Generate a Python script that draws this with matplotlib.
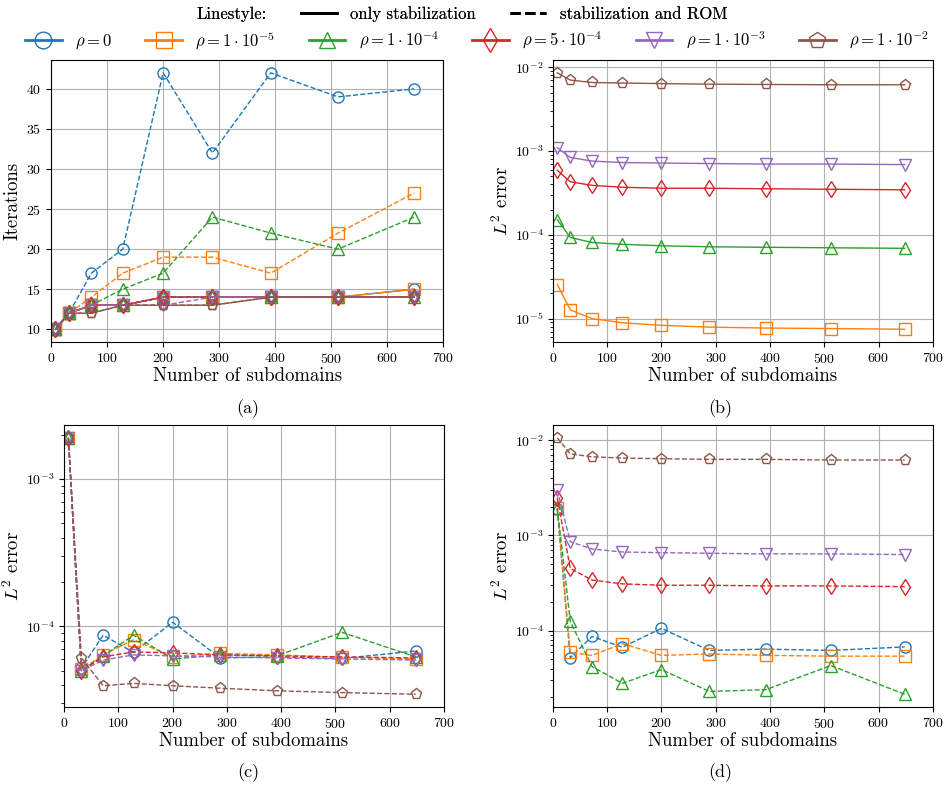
import numpy as np
import matplotlib
matplotlib.use("Agg")
import matplotlib.pyplot as plt
from matplotlib.lines import Line2D

plt.rcParams['font.family'] = 'serif'
plt.rcParams['font.serif'] = ['cmr10']
plt.rcParams['mathtext.fontset'] = 'cm'
plt.rcParams['axes.formatter.use_mathtext'] = True

# number of subdomains
n_sub = [8, 32, 72, 128, 200, 288, 392, 512, 648]

rho_labels = [r'$\rho = 0$', r'$\rho = 1 \cdot 10^{-5}$', r'$\rho = 1 \cdot 10^{-4}$',
              r'$\rho = 5 \cdot 10^{-4}$', r'$\rho = 1 \cdot 10^{-3}$', r'$\rho = 1 \cdot 10^{-2}$']
colors = ['tab:blue', 'tab:orange', 'tab:green', 'tab:red', 'tab:purple', 'tab:brown']
markers = ['o', 's', '^', 'd', 'v', 'p']

# (a) iterations, only stabilization (solid)
iters_stab = [
    [10, 12, 13, 13, 14, 14, 14, 14, 15],
    [10, 12, 13, 13, 14, 14, 14, 14, 15],
    [10, 12, 13, 13, 14, 14, 14, 14, 14],
    [10, 12, 13, 13, 14, 14, 14, 14, 14],
    [10, 12, 13, 13, 14, 14, 14, 14, 14],
    [10, 12, 12, 13, 13, 13, 14, 14, 14],
]
# (a) iterations, stabilization and ROM (dashed)
iters_rom = [
    [10, 12, 17, 20, 42, 32, 42, 39, 40],
    [10, 12, 14, 17, 19, 19, 17, 22, 27],
    [10, 12, 13, 15, 17, 24, 22, 20, 24],
    [10, 12, 13, 13, 14, 14, 14, 14, 14],
    [10, 12, 13, 13, 13, 14, 14, 14, 14],
    [10, 12, 12, 13, 13, 13, 14, 14, 14],
]

# (b) L2 error, only stabilization (no curve for rho=0)
err_b = [
    None,
    [2.55e-5, 1.27e-5, 1.0e-5, 8.9e-6, 8.3e-6, 7.9e-6, 7.7e-6, 7.6e-6, 7.45e-6],
    [1.52e-4, 9.3e-5, 8.1e-5, 7.7e-5, 7.4e-5, 7.2e-5, 7.1e-5, 7.0e-5, 6.9e-5],
    [5.9e-4, 4.3e-4, 3.9e-4, 3.7e-4, 3.6e-4, 3.6e-4, 3.55e-4, 3.5e-4, 3.45e-4],
    [1.1e-3, 8.4e-4, 7.6e-4, 7.3e-4, 7.2e-4, 7.1e-4, 7.0e-4, 7.0e-4, 6.9e-4],
    [8.6e-3, 7.05e-3, 6.6e-3, 6.5e-3, 6.4e-3, 6.3e-3, 6.25e-3, 6.2e-3, 6.2e-3],
]

# (c) L2 error, stabilization and ROM
err_c = [
    [1.9e-3, 5.2e-5, 8.7e-5, 6.65e-5, 1.065e-4, 6.1e-5, 6.2e-5, 6.05e-5, 6.8e-5],
    [1.9e-3, 5.1e-5, 6.4e-5, 8.1e-5, 6.2e-5, 6.55e-5, 6.4e-5, 6.15e-5, 6.0e-5],
    [1.9e-3, 5.0e-5, 6.3e-5, 8.7e-5, 6.0e-5, 6.4e-5, 6.3e-5, 9.1e-5, 6.2e-5],
    [1.9e-3, 5.0e-5, 6.2e-5, 6.7e-5, 6.6e-5, 6.4e-5, 6.3e-5, 6.2e-5, 6.1e-5],
    [1.9e-3, 5.0e-5, 5.9e-5, 6.4e-5, 6.3e-5, 6.2e-5, 6.1e-5, 6.0e-5, 5.9e-5],
    [1.9e-3, 6.1e-5, 3.95e-5, 4.1e-5, 3.95e-5, 3.8e-5, 3.65e-5, 3.55e-5, 3.46e-5],
]

# (d) L2 error, stabilization and ROM
err_d = [
    [1.9e-3, 5.2e-5, 8.7e-5, 6.7e-5, 1.057e-4, 6.2e-5, 6.4e-5, 6.2e-5, 6.75e-5],
    [1.95e-3, 5.9e-5, 5.5e-5, 7.3e-5, 5.5e-5, 5.7e-5, 5.5e-5, 5.4e-5, 5.4e-5],
    [1.96e-3, 1.25e-4, 4.2e-5, 2.8e-5, 3.9e-5, 2.3e-5, 2.4e-5, 4.3e-5, 2.15e-5],
    [2.5e-3, 4.5e-4, 3.4e-4, 3.1e-4, 3.0e-4, 3.0e-4, 2.95e-4, 2.95e-4, 2.9e-4],
    [3.0e-3, 8.6e-4, 7.2e-4, 6.7e-4, 6.6e-4, 6.5e-4, 6.4e-4, 6.4e-4, 6.3e-4],
    [1.06e-2, 7.2e-3, 6.7e-3, 6.5e-3, 6.4e-3, 6.3e-3, 6.3e-3, 6.2e-3, 6.2e-3],
]

fig = plt.figure(figsize=(9.5, 7.9), dpi=100)
ax_a = fig.add_axes([0.0537, 0.567, 0.413, 0.357])
ax_b = fig.add_axes([0.582, 0.567, 0.400, 0.357])
ax_c = fig.add_axes([0.0674, 0.105, 0.400, 0.357])
ax_d = fig.add_axes([0.582, 0.105, 0.400, 0.357])

mk = dict(markersize=8, mfc='none', lw=1)

for i in range(6):
    ax_a.plot(n_sub, iters_stab[i], ls='-', color=colors[i], marker=markers[i], **mk)
for i in range(6):
    ax_a.plot(n_sub, iters_rom[i], ls='--', color=colors[i], marker=markers[i], **mk)

for i in range(6):
    if err_b[i] is not None:
        ax_b.plot(n_sub, err_b[i], ls='-', color=colors[i], marker=markers[i], **mk)
    ax_c.plot(n_sub, err_c[i], ls='--', color=colors[i], marker=markers[i], **mk)
    ax_d.plot(n_sub, err_d[i], ls='--', color=colors[i], marker=markers[i], **mk)

for ax in [ax_b, ax_c, ax_d]:
    ax.set_yscale('log')
    ax.set_ylabel(r'$L^2$ error', fontsize=13.5, labelpad=2)
ax_a.set_ylabel('Iterations', fontsize=13.5, labelpad=3)

for ax in [ax_a, ax_b, ax_c, ax_d]:
    ax.set_xlim(0, 700)
    ax.set_xlabel('Number of subdomains', fontsize=13.5, labelpad=1)
    ax.tick_params(labelsize=10)
    ax.grid(True)

fig.text(0.261, 0.483, '(a)', ha='center', va='center', fontsize=13)
fig.text(0.758, 0.483, '(b)', ha='center', va='center', fontsize=13)
fig.text(0.261, 0.022, '(c)', ha='center', va='center', fontsize=13)
fig.text(0.758, 0.022, '(d)', ha='center', va='center', fontsize=13)

# legends
style_handles = [Line2D([], [], alpha=0),
                 Line2D([], [], color='black', ls='-', lw=2),
                 Line2D([], [], color='black', ls='--', lw=2)]
style_labels = ['Linestyle:', 'only stabilization', 'stabilization and ROM']
leg1 = fig.legend(style_handles, style_labels, ncol=3, loc='center',
                  bbox_to_anchor=(0.46, 0.982), frameon=False, fontsize=12,
                  handlelength=2.2, columnspacing=2.0, borderpad=0)
rho_handles = [Line2D([], [], color=colors[i], marker=markers[i], mfc='none',
                      markersize=12, lw=2) for i in range(6)]
fig.legend(rho_handles, rho_labels, ncol=6, loc='center',
           bbox_to_anchor=(0.502, 0.949), frameon=False, fontsize=12,
           handlelength=2.2, columnspacing=2.0, borderpad=0)
fig.add_artist(leg1)

fig.savefig('out.png', dpi=100)
